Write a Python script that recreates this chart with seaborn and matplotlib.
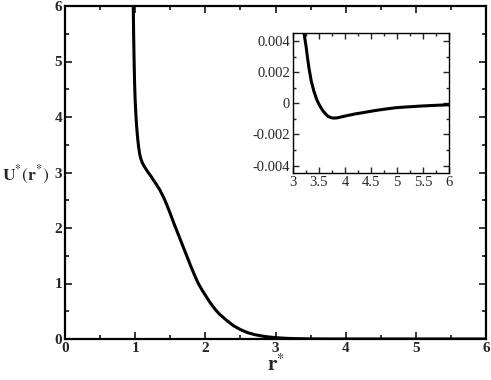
import matplotlib
matplotlib.use("Agg")
import matplotlib.pyplot as plt
from matplotlib.ticker import MultipleLocator
import seaborn as sns

# main curve
r_main = [0.973, 0.978, 0.985, 0.992, 1.0, 1.01, 1.02, 1.035, 1.05, 1.065, 1.08,
          1.10, 1.12, 1.15, 1.18, 1.21, 1.24, 1.27, 1.30, 1.35, 1.39, 1.424,
          1.45, 1.50, 1.55, 1.60, 1.65, 1.70, 1.75, 1.80, 1.85, 1.90, 1.95,
          2.0, 2.05, 2.1, 2.15, 2.2, 2.3, 2.4, 2.5, 2.6, 2.7, 2.8, 2.9, 3.0,
          3.1, 3.2, 3.35, 3.5, 3.8, 4.5, 5.0, 6.0]
u_main = [6.0, 5.5, 5.0, 4.6, 4.3, 4.05, 3.85, 3.62, 3.45, 3.33, 3.25,
          3.18, 3.13, 3.07, 3.01, 2.96, 2.905, 2.845, 2.79, 2.69, 2.59, 2.50,
          2.42, 2.26, 2.09, 1.93, 1.77, 1.61, 1.45, 1.29, 1.14, 1.00, 0.89,
          0.79, 0.69, 0.60, 0.52, 0.45, 0.34, 0.24, 0.17, 0.115, 0.08, 0.055,
          0.037, 0.025, 0.016, 0.01, 0.005, 0.002, 0.0, 0.0, 0.0, 0.0]
# inset curve
r_ins = [3.21, 3.23, 3.25, 3.28, 3.31, 3.35, 3.40, 3.45, 3.49, 3.54, 3.58, 3.63,
         3.68, 3.73, 3.78, 3.84, 3.9, 4.0, 4.1, 4.2, 4.35, 4.5, 4.65, 4.8,
         4.99, 5.2, 5.5, 5.75, 5.96, 6.0]
u_ins = [0.0046, 0.0041, 0.0037, 0.0029, 0.0022, 0.00145, 0.0008, 0.0003,
         0.00000, -0.0003, -0.0005, -0.0007, -0.00085, -0.00092, -0.00095,
         -0.00094, -0.0009, -0.00082, -0.00075, -0.00068, -0.0006, -0.00051,
         -0.00043, -0.00036, -0.00028, -0.00023, -0.00017, -0.00013, -0.0001,
         -0.0001]

sns.set_style("ticks")
plt.rcParams['font.family'] = ['Liberation Serif', 'DejaVu Serif']
plt.rcParams['mathtext.fontset'] = 'stix'

fig = plt.figure(figsize=(4.91, 3.80), dpi=100)
ax = fig.add_axes([65/491, 41/380, 421/491, 333/380])
sns.lineplot(x=r_main, y=u_main, ax=ax, color='black', lw=2.2, sort=False)
ax.set_xlim(0, 6)
ax.set_ylim(0, 6)
ax.xaxis.set_major_locator(MultipleLocator(1))
ax.xaxis.set_minor_locator(MultipleLocator(0.5))
ax.yaxis.set_major_locator(MultipleLocator(1))
ax.yaxis.set_minor_locator(MultipleLocator(0.5))
ax.tick_params(which='both', direction='in', top=True, right=True, width=1.3)
ax.tick_params(which='major', length=5, labelsize=11, pad=2)
ax.tick_params(which='minor', length=3)
for lbl in ax.get_xticklabels() + ax.get_yticklabels():
    lbl.set_fontweight('bold')
for s in ax.spines.values():
    s.set_linewidth(1.6)
    s.set_color('black')
ax.set_xlabel(r'$\mathbf{r}^{*}$', fontsize=15, labelpad=0)
ax.set_ylabel('')
fig.text(0.004, 1 - 175/380, r'$\mathbf{U}^{*}(\mathbf{r}^{*})$', fontsize=12.5,
         ha='left', va='center')

axi = fig.add_axes([293/491, (380-173.3)/380, 156/491, 140/380])
sns.lineplot(x=r_ins, y=u_ins, ax=axi, color='black', lw=2.2, sort=False)
axi.set_xlim(3, 6)
axi.set_ylim(-0.0045, 0.0045)
axi.xaxis.set_minor_locator(MultipleLocator(0.25))
axi.yaxis.set_minor_locator(MultipleLocator(0.001))
axi.set_xticks([3, 3.5, 4, 4.5, 5, 5.5, 6])
axi.set_xticklabels(['3', '3.5', '4', '4.5', '5', '5.5', '6'])
axi.set_yticks([-0.004, -0.002, 0, 0.002, 0.004])
axi.set_yticklabels(['-0.004', '-0.002', '0', '0.002', '0.004'])
axi.tick_params(which='both', direction='in', top=True, right=True, width=1.0)
axi.tick_params(which='major', length=4, labelsize=10.5, pad=2)
axi.tick_params(which='minor', length=2.5)
for s in axi.spines.values():
    s.set_linewidth(1.0)
    s.set_color('black')
axi.set_xlabel('')
axi.set_ylabel('')

fig.savefig('out.png', dpi=100)
